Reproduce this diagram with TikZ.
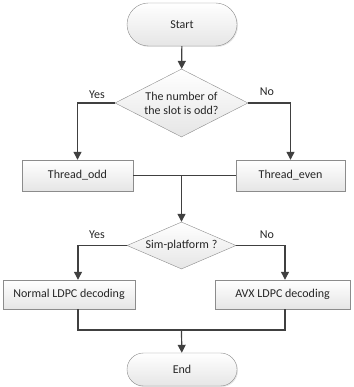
\documentclass[tikz,border=0pt]{standalone}
\usepackage{fontspec}
\setmainfont{Carlito}
\usetikzlibrary{shapes.geometric,arrows.meta,shadows}
\definecolor{linegray}{HTML}{404040}
\definecolor{edgegray}{HTML}{8C8C8C}
\begin{document}
\begin{tikzpicture}
  [x=1pt,y=1pt,font=\fontsize{12}{14}\selectfont,
   every node/.style={align=center,text=black!85},
   block/.style={rectangle,draw=edgegray,top color=white,bottom color=black!10,
     drop shadow={opacity=0.2,shadow xshift=1pt,shadow yshift=-1pt},inner sep=0pt},
   choice/.style={diamond,draw=edgegray,top color=white,bottom color=black!10,inner sep=0pt},
   tag/.style={draw=none,fill=none},
   arr/.style={draw=linegray,line width=1.2pt,-{Triangle[width=8pt,length=8pt]}},
   lin/.style={draw=linegray,line width=1.2pt}]
\useasboundingbox (0,0) rectangle (353,387);
% Inicio y primera decision
  \node[block,rounded corners=21.5pt,minimum width=110pt,minimum height=43pt] (start) at (182,362.5) {Start};
  \node[choice,aspect=2,minimum width=133pt,minimum height=68pt] (q1) at (181.5,284) {The number of\\the slot is odd?};
  \node[tag] (yes1) at (97,292) {Yes};
  \node[tag] (no1) at (267,295) {No};

  % Hilos
  \node[block,minimum width=111pt,minimum height=31pt] (odd) at (77.5,211.5) {Thread\_odd};
  \node[block,minimum width=109pt,minimum height=31pt] (even) at (290.5,211.5) {Thread\_even};

  % Segunda decision
  \node[choice,aspect=2.4,minimum width=109pt,minimum height=47pt] (q2) at (181.5,141.5) {Sim-platform ?};
  \node[tag] (yes2) at (97,152) {Yes};
  \node[tag] (no2) at (267,152) {No};

  \node[block,minimum width=132pt,minimum height=29pt] (normal) at (69,92.5) {Normal LDPC decoding};
  \node[block,minimum width=135pt,minimum height=29pt] (avx) at (282.5,92.5) {AVX LDPC decoding};

  \node[block,rounded corners=16.5pt,minimum width=110pt,minimum height=33pt] (end) at (182,17.5) {End};
  \coordinate (join) at (181.5,57);

  % Aristas
  \draw[arr] (start) -- (q1);
  \draw[arr] (q1.west) -| (odd.north);
  \draw[arr] (q1.east) -| (even.north);
  \draw[lin] (odd.east) -- (even.west);
  \draw[arr] (q2.north |- odd.east) -- (q2.north);
  \draw[arr] (q2.west) -| ([xshift=9pt]normal.north);
  \draw[arr] (q2.east) -| ([xshift=2.5pt]avx.north);
  \draw[lin] ([xshift=9pt]normal.south) |- (join) -| ([xshift=2.5pt]avx.south);
  \draw[arr] (join) -- (end);
\end{tikzpicture}
\end{document}
